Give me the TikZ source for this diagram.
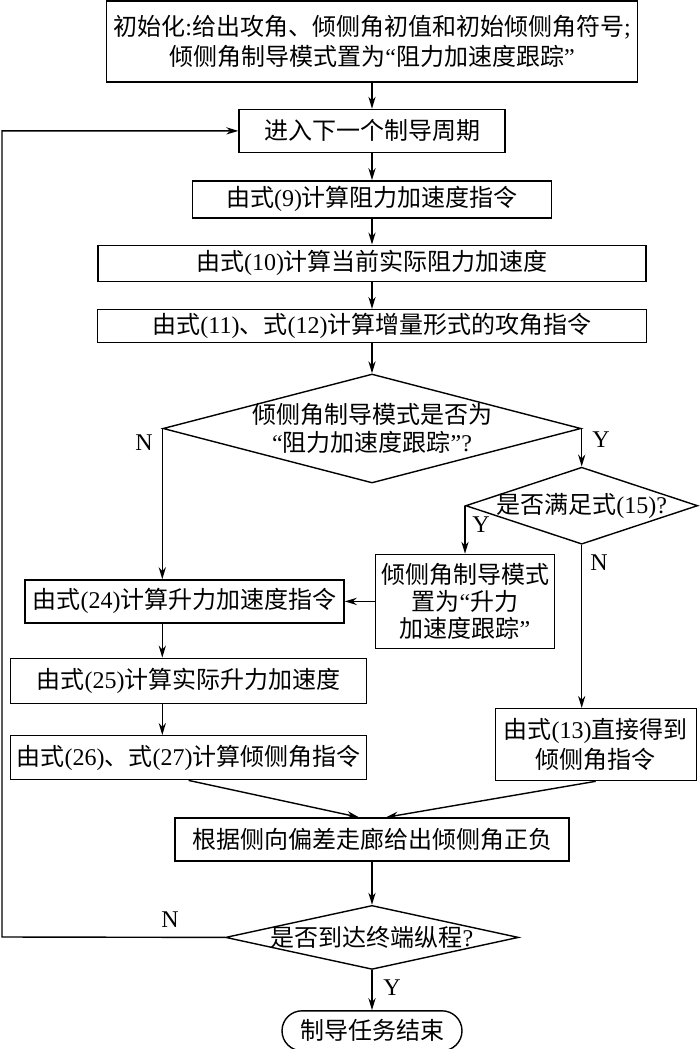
\documentclass[tikz,border=0pt]{standalone}
\usepackage{fontspec}
\setmainfont{Noto Sans CJK SC}
\newfontfamily\westfont{Liberation Serif}
\usetikzlibrary{positioning}
\usetikzlibrary{shapes.geometric}
\usetikzlibrary{arrows.meta}
\newcommand{\Eq}[1]{{\westfont(#1)}}
\newcommand{\Quote}[1]{{\westfont “}#1{\westfont ”}}
\newcommand{\Ask}{{\westfont ?}}
\tikzstyle{proc} = [rectangle, draw=black, line width=0.7pt, inner sep=1pt, align=center, font=\fontsize{12}{15}\selectfont]
\tikzstyle{decide} = [diamond, draw=black, line width=0.7pt, inner xsep=-20pt, inner ysep=-4pt, align=center, font=\fontsize{12}{14}\selectfont]
\tikzstyle{term} = [proc, rounded corners=10pt]
\tikzstyle{link} = [line width=0.7pt, -{Stealth[length=6pt, width=3.6pt]}]
\tikzstyle{yn} = [inner sep=0pt, font=\westfont\fontsize{12}{12}\selectfont]

\begin{document}
\begin{tikzpicture}[x=0.5pt, y=-0.5pt]
\useasboundingbox (0,0) rectangle (700,1049);

% Define nodes
\node[proc, minimum width=265.5pt, minimum height=40.5pt] (init) at (372,41.5)
  {初始化{\westfont:}给出攻角、倾侧角初值和初始倾侧角符号{\westfont;}\\倾侧角制导模式置为\Quote{阻力加速度跟踪}};
\node[proc, below = 13pt of init, minimum width=133pt, minimum height=21.5pt]     (next)  {进入下一个制导周期};
\node[proc, below = 13.5pt of next, minimum width=179.5pt, minimum height=18.5pt] (calcD) {由式\Eq{9}计算阻力加速度指令};
\node[proc, below = 13pt of calcD, minimum width=274pt, minimum height=18pt]      (actD)  {由式\Eq{10}计算当前实际阻力加速度};
\node[proc, below = 13.5pt of actD, minimum width=274.5pt, minimum height=16.5pt] (alpha) {由式\Eq{11}、式\Eq{12}计算增量形式的攻角指令};

\node[decide, below = 15pt of alpha, minimum width=209pt, minimum height=54.5pt, aspect=3.83] (mode)
  {倾侧角制导模式是否为\\\Quote{阻力加速度跟踪}\Ask};
\node[decide, below = 19pt of mode.east, minimum width=116pt, minimum height=38.5pt, aspect=3.0] (cond)
  {是否满足式\Eq{15}\Ask};

\node[proc, below = 24pt of cond.west, minimum width=89.5pt, minimum height=47pt, font=\fontsize{12}{13.5}\selectfont] (setL)
  {倾侧角制导模式\\置为\Quote{升力\\加速度跟踪}};
\node[proc, left  = 15pt of setL, minimum width=159.5pt, minimum height=21.5pt]           (cmdL) {由式\Eq{24}计算升力加速度指令};
\node[proc, below = 17pt of cmdL, xshift = 2pt, minimum width=178pt, minimum height=22.5pt] (actL) {由式\Eq{25}计算实际升力加速度};
\node[proc, below = 15.5pt of actL, minimum width=178pt, minimum height=22pt]              (bank) {由式\Eq{26}、式\Eq{27}计算倾侧角指令};

\node[proc, below = 81.5pt of cond.south, xshift = 7pt, minimum width=100.5pt, minimum height=36pt] (direct)
  {由式\Eq{13}直接得到\\倾侧角指令};

\node[proc, minimum width=197pt, minimum height=21.5pt] (sign) at (372,839.5) {根据侧向偏差走廊给出倾侧角正负};
\node[decide, below = 21.5pt of sign, minimum width=146.5pt, minimum height=32pt, aspect=4.58] (stop) {是否到达终端纵程\Ask};
\node[term, below = 20pt of stop, minimum width=90pt, minimum height=20pt] (end) {制导任务结束};

\coordinate (back) at (2,937);

% Labels
\node[yn] (modeN) at (144,443) {N};
\node[yn] (modeY) at (601,440) {Y};
\node[yn] (condY) at (481,525) {Y};
\node[yn] (condN) at (599,563) {N};
\node[yn] (stopN) at (170,920) {N};
\node[yn] (stopY) at (392,988) {Y};

% Edges
\draw[link] (init) -- (next);
\draw[link] (next) -- (calcD);
\draw[link] (calcD) -- (actD);
\draw[link] (actD) -- (alpha);
\draw[link] (alpha) -- (mode);
\draw[link] (mode.east) -- (cond.north);
\draw[link] (mode.west) -- (mode.west |- cmdL.north);
\draw[link] (cond.west) -- (cond.west |- setL.north);
\draw[link] (cond.south) -- (cond.south |- direct.north);
\draw[link] (setL) -- (cmdL);
\draw[link] (cmdL.south -| mode.west) -- (actL.north -| mode.west);
\draw[link] (actL.south -| mode.west) -- (bank.north -| mode.west);
\draw[link] (bank.south) -- ([xshift=-6.5pt]sign.north);
\draw[link] (direct.south) -- ([xshift=7pt]sign.north);
\draw[link] (sign) -- (stop);
\draw[link] (stop) -- (end);
\draw[link] (stop.west) -- (back) |- (next.west);
\end{tikzpicture}
\end{document}
